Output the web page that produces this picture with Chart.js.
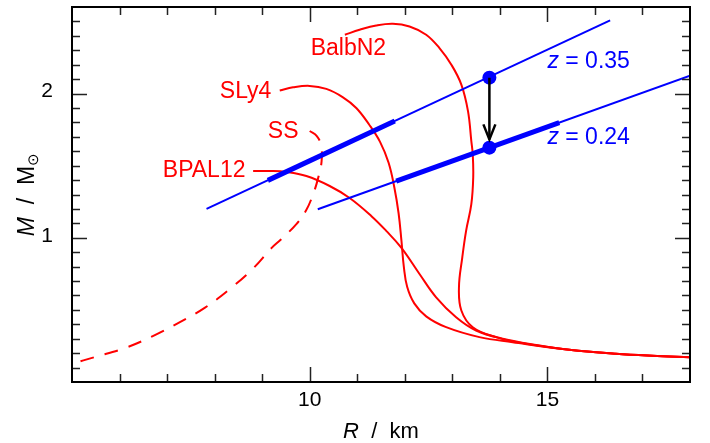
<!DOCTYPE html>
<html>
<head>
<meta charset="utf-8">
<script src="https://cdn.jsdelivr.net/npm/chart.js@4.4.0/dist/chart.umd.min.js"></script>
<style>
  body { margin: 0; background: #fff; }
  #wrap { width: 710px; height: 443px; position: relative; }
</style>
</head>
<body>
<div id="wrap"><canvas id="mrChart"></canvas></div>
<script>
// mass-radius curves, pairs of [R (km), M (Msun)]
const ssCurve = [
  [10.0, 1.74], [10.15, 1.705], [10.24, 1.64], [10.25, 1.53], [10.18, 1.417],
  [10.07, 1.30], [9.92, 1.187], [9.72, 1.095], [9.40, 0.99], [9.20, 0.93],
  [8.80, 0.784], [8.32, 0.645], [7.79, 0.514], [7.27, 0.415], [6.70, 0.318],
  [6.11, 0.235], [5.48, 0.173], [5.0, 0.127]
];
const bpal12Curve = [
  [8.81, 1.463], [9.16, 1.463], [9.51, 1.456], [9.93, 1.428], [10.42, 1.359],
  [10.84, 1.276], [11.30, 1.150], [11.61, 1.048], [11.93, 0.93], [12.31, 0.749],
  [12.66, 0.587], [13.08, 0.449], [13.50, 0.357], [14.06, 0.300], [14.8, 0.255],
  [15.46, 0.224], [16.44, 0.196], [17.2, 0.182], [18.0, 0.172]
];
const sly4Curve = [
  [9.37, 2.021], [9.65, 2.043], [10.0, 2.053], [10.35, 2.032], [10.70, 1.974],
  [10.98, 1.90], [11.25, 1.785], [11.48, 1.665], [11.66, 1.52], [11.78, 1.35],
  [11.87, 1.17], [11.93, 0.98], [11.98, 0.80], [12.05, 0.66], [12.20, 0.545],
  [12.45, 0.455], [12.87, 0.380], [13.57, 0.311], [14.27, 0.276], [15.46, 0.224],
  [16.44, 0.196], [17.2, 0.182], [18.0, 0.172]
];
const balbN2Curve = [
  [10.74, 2.408], [11.05, 2.442], [11.40, 2.472], [11.75, 2.484], [12.10, 2.465],
  [12.45, 2.408], [12.73, 2.315], [12.98, 2.20], [13.19, 2.062], [13.33, 1.878],
  [13.40, 1.67], [13.43, 1.578], [13.44, 1.42], [13.40, 1.233], [13.29, 1.048],
  [13.21, 0.864], [13.14, 0.657], [13.19, 0.496], [13.43, 0.380], [13.92, 0.311],
  [14.55, 0.265], [15.46, 0.224], [16.44, 0.196], [17.2, 0.182], [18.0, 0.172]
];

// redshift constraint lines
const z035Line = [[7.83, 1.20], [16.32, 2.507]];
const z035Band = [[9.12, 1.398], [11.79, 1.809]];
const z024Line = [[10.17, 1.198], [18.0, 2.124]];
const z024Band = [[11.82, 1.393], [15.25, 1.799]];
const measuredPoints = [[13.78, 2.11], [13.78, 1.625]];
const shiftArrow = [[13.78, 2.11], [13.78, 1.682]];

const xTickLabels = [10, 15];
const yTickLabels = [1, 2];
const eosNames = ['BalbN2', 'SLy4', 'SS', 'BPAL12'];
const redshifts = ['0.35', '0.24'];

const FONT = '"Liberation Sans", Arial, sans-serif';

function toXY(arr) {
    return arr.map(p => ({ x: p[0], y: p[1] }));
}

function curve(arr, color, width, extra) {
    return Object.assign({
        data: toXY(arr),
        showLine: true,
        borderColor: color,
        borderWidth: width,
        pointRadius: 0,
        fill: false,
        tension: 0
    }, extra || {});
}

// inward tick marks on all four sides + frame
const frameTicks = {
    id: 'frameTicks',
    afterDraw(chart) {
        const { ctx, chartArea: a, scales: { x, y } } = chart;
        ctx.save();
        ctx.strokeStyle = '#222';
        ctx.lineWidth = 1.5;
        ctx.beginPath();
        for (let r = 6; r <= 17; r++) {
            const px = Math.round(x.getPixelForValue(r)) + 0.5;
            const len = r % 5 === 0 ? 15 : 8;
            ctx.moveTo(px, a.bottom); ctx.lineTo(px, a.bottom - len);
            ctx.moveTo(px, a.top); ctx.lineTo(px, a.top + len);
        }
        for (let i = 1; i <= 25; i++) {
            const py = Math.round(y.getPixelForValue(i / 10)) + 0.5;
            const len = i % 10 === 0 ? 15 : 8;
            ctx.moveTo(a.left, py); ctx.lineTo(a.left + len, py);
            ctx.moveTo(a.right, py); ctx.lineTo(a.right - len, py);
        }
        ctx.stroke();
        ctx.strokeStyle = '#000';
        ctx.lineWidth = 2;
        ctx.strokeRect(a.left, a.top, a.width, a.height);
        ctx.restore();
    }
};

// arrow head, curve names, redshift labels and axis titles
const annotations = {
    id: 'annotations',
    afterDatasetsDraw(chart) {
        const { ctx, scales: { x, y } } = chart;
        ctx.save();

        // arrow head at the lower end of the arrow
        const tip = shiftArrow[1];
        const tx = x.getPixelForValue(tip[0]);
        const ty = y.getPixelForValue(tip[1]);
        ctx.strokeStyle = '#000';
        ctx.lineWidth = 2.5;
        ctx.beginPath();
        ctx.moveTo(tx - 6, ty - 15);
        ctx.lineTo(tx, ty);
        ctx.lineTo(tx + 6, ty - 15);
        ctx.stroke();

        // EOS names
        const namePos = [[10.02, 2.27], [8.11, 1.97], [9.12, 1.69], [6.91, 1.418]];
        ctx.fillStyle = 'red';
        ctx.font = '23px ' + FONT;
        ctx.textBaseline = 'alphabetic';
        ctx.textAlign = 'left';
        eosNames.forEach((name, i) => {
            ctx.fillText(name, x.getPixelForValue(namePos[i][0]), y.getPixelForValue(namePos[i][1]));
        });

        // redshift labels
        const zPos = [[15.0, 2.18], [15.0, 1.65]];
        ctx.fillStyle = 'blue';
        redshifts.forEach((z, i) => {
            let px = x.getPixelForValue(zPos[i][0]);
            const py = y.getPixelForValue(zPos[i][1]);
            ctx.font = 'italic 23px ' + FONT;
            ctx.fillText('z', px, py);
            px += ctx.measureText('z').width;
            ctx.font = '23px ' + FONT;
            ctx.fillText(' = ' + z, px, py);
        });
        ctx.restore();
    },
    afterDraw(chart) {
        const { ctx, chartArea: a } = chart;
        ctx.save();
        ctx.fillStyle = '#000';
        ctx.textBaseline = 'alphabetic';
        ctx.textAlign = 'left';

        // x title: R / km
        ctx.font = 'italic 22px ' + FONT;
        const wR = ctx.measureText('R').width;
        ctx.font = '22px ' + FONT;
        const rest = '  /  km';
        const wRest = ctx.measureText(rest).width;
        let x0 = (a.left + a.right) / 2 - (wR + wRest) / 2;
        ctx.font = 'italic 22px ' + FONT;
        ctx.fillText('R', x0, 438);
        ctx.font = '22px ' + FONT;
        ctx.fillText(rest, x0 + wR, 438);

        // y title: M / M_sun
        ctx.translate(34, (a.top + a.bottom) / 2);
        ctx.rotate(-Math.PI / 2);
        ctx.font = 'italic 23px ' + FONT;
        const wM = ctx.measureText('M').width;
        ctx.font = '23px ' + FONT;
        const mid = '  /  M';
        const wMid = ctx.measureText(mid).width;
        ctx.font = '15px ' + FONT;
        const wSun = ctx.measureText('\u2299').width;
        let s = -(wM + wMid + wSun) / 2;
        ctx.font = 'italic 23px ' + FONT;
        ctx.fillText('M', s, 0);
        ctx.font = '23px ' + FONT;
        ctx.fillText(mid, s + wM, 0);
        ctx.font = '15px ' + FONT;
        ctx.fillText('\u2299', s + wM + wMid, 4);
        ctx.restore();
    }
};

const ctx = document.getElementById('mrChart');
new Chart(ctx, {
    type: 'scatter',
    data: {
        datasets: [
            curve(shiftArrow, '#000', 2.5),
            { data: toXY(measuredPoints), pointRadius: 7, pointBackgroundColor: 'blue', pointBorderWidth: 0, showLine: false },
            curve(z035Band, 'blue', 5),
            curve(z024Band, 'blue', 5),
            curve(z035Line, 'blue', 2),
            curve(z024Line, 'blue', 2),
            curve(balbN2Curve, 'red', 2, { tension: 0.4 }),
            curve(sly4Curve, 'red', 2, { tension: 0.4 }),
            curve(bpal12Curve, 'red', 2, { tension: 0.4 }),
            curve(ssCurve, 'red', 2, { tension: 0.4, borderDash: [14, 11] })
        ]
    },
    options: {
        responsive: true,
        maintainAspectRatio: false,
        animation: false,
        layout: { padding: { top: 5, right: 20, left: 0, bottom: 0 } },
        plugins: {
            legend: { display: false },
            tooltip: { enabled: false }
        },
        scales: {
            x: {
                type: 'linear',
                min: 5,
                max: 18,
                grid: { display: false, drawTicks: false },
                border: { display: false },
                afterBuildTicks: axis => {
                    axis.ticks = xTickLabels.map(v => ({ value: v }));
                },
                ticks: {
                    color: '#000',
                    font: { family: FONT, size: 21 },
                    padding: 6,
                    maxRotation: 0
                },
                afterFit: axis => {
                    axis.height = 61;
                    axis.paddingLeft = 0;
                    axis.paddingRight = 0;
                }
            },
            y: {
                type: 'linear',
                min: 0,
                max: 2.6,
                grid: { display: false, drawTicks: false },
                border: { display: false },
                afterBuildTicks: axis => {
                    axis.ticks = yTickLabels.map(v => ({ value: v }));
                },
                ticks: {
                    color: '#000',
                    font: { family: FONT, size: 21 },
                    padding: 19,
                    labelOffset: -2
                },
                afterFit: axis => {
                    axis.width = 72;
                    axis.paddingTop = 0;
                    axis.paddingBottom = 0;
                }
            }
        }
    },
    plugins: [frameTicks, annotations]
});
</script>
</body>
</html>
